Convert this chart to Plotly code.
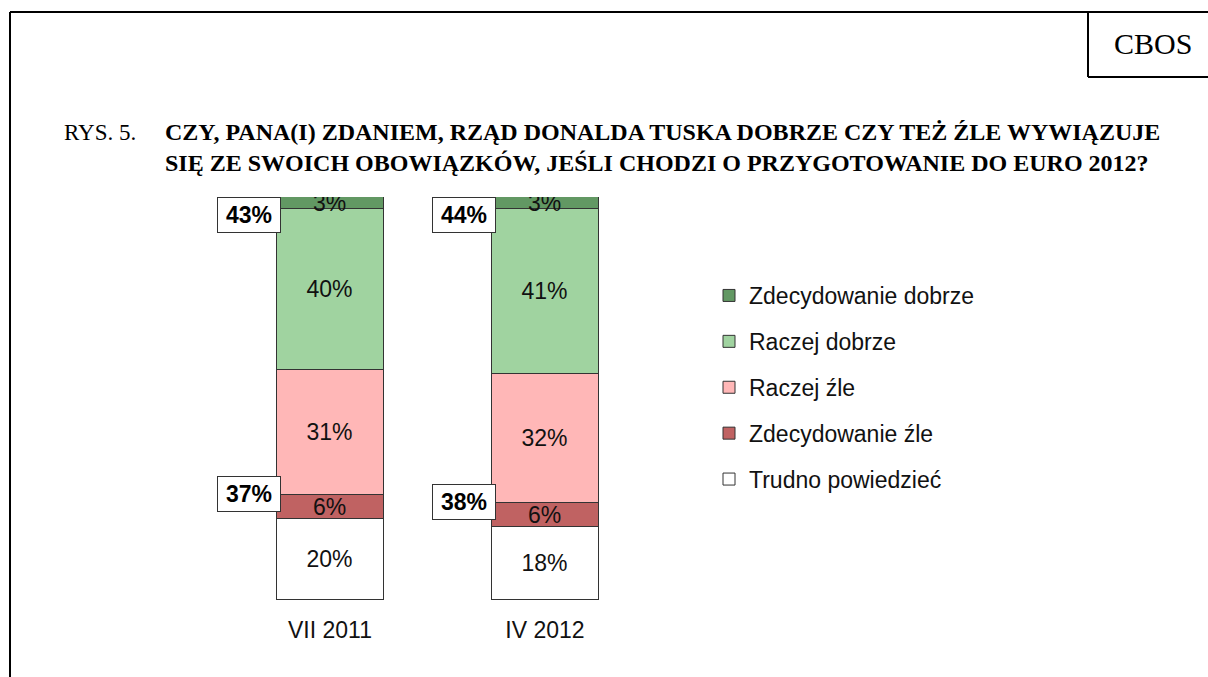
import plotly.graph_objects as go

W, H = 1208, 677

categories = ["VII 2011", "IV 2012"]
series_names = ["Trudno powiedzieć", "Zdecydowanie źle", "Raczej źle",
                "Raczej dobrze", "Zdecydowanie dobrze"]
trudno = [20, 18]
zdec_zle = [6, 6]
raczej_zle = [31, 32]
raczej_dobrze = [40, 41]
zdec_dobrze = [3, 3]
colors = ["#FFFFFF", "#C06262", "#FFB7B7", "#A0D3A0", "#629863"]

series_values = [trudno, zdec_zle, raczej_zle, raczej_dobrze, zdec_dobrze]

SANS = "Liberation Sans, Arial"
SERIF = "Liberation Serif, Times New Roman"

def px_x(p):
    return p / W

def px_y(p):
    return 1 - p / H

fig = go.Figure()
n = len(series_names)
for k, (name, vals, col) in enumerate(zip(series_names, series_values, colors)):
    fig.add_trace(go.Bar(
        x=categories, y=vals, name=name, legendgroup=name, legendrank=n - k,
        marker=dict(color=col, line=dict(color="#333333", width=1)),
        width=0.5,
        text=[f"{v}%" for v in vals], textposition="inside",
        insidetextanchor="middle", textangle=0, constraintext="none",
        textfont=dict(family=SANS, size=23, color="#111111"),
        hoverinfo="skip",
    ))

# totals
pos_tot = [a + b for a, b in zip(zdec_dobrze, raczej_dobrze)]
neg_tot = [a + b for a, b in zip(raczej_zle, zdec_zle)]
pos_anchor = [100 - d for d in zdec_dobrze]
neg_anchor = [t + z for t, z in zip(trudno, zdec_zle)]

annotations = []
for i, cat in enumerate(categories):
    for val, yv, ys in ((pos_tot[i], pos_anchor[i], -6), (neg_tot[i], neg_anchor[i], 1)):
        annotations.append(dict(
            x=cat, y=yv, xref="x", yref="y", xanchor="right", yanchor="middle",
            xshift=-49, yshift=ys, showarrow=False, text=f"<b>{val}%</b>",
            font=dict(family=SANS, size=23, color="#000"),
            bgcolor="#FFFFFF", bordercolor="#333333", borderwidth=1,
            width=60, height=32, align="center",
        ))

annotations += [
    dict(x=px_x(62), y=px_y(133), xref="paper", yref="paper", xanchor="left",
         yanchor="middle", showarrow=False, text="RYS. 5.",
         font=dict(family=SERIF, size=23, color="#000")),
    dict(x=px_x(163), y=px_y(148), xref="paper", yref="paper", xanchor="left",
         yanchor="middle", showarrow=False, align="left",
         text="<b>CZY, PANA(I) ZDANIEM, RZĄD DONALDA TUSKA DOBRZE CZY TEŻ ŹLE WYWIĄZUJE</b><br>"
              "<b>SIĘ ZE SWOICH OBOWIĄZKÓW, JEŚLI CHODZI O PRZYGOTOWANIE DO EURO 2012?</b>",
         font=dict(family=SERIF, size=24, color="#000")),
    dict(x=px_x(1153), y=px_y(44), xref="paper", yref="paper", xanchor="center",
         yanchor="middle", showarrow=False, text="CBOS",
         font=dict(family=SERIF, size=30, color="#000")),
]

shapes = [
    dict(type="line", xref="paper", yref="paper", x0=px_x(10), y0=px_y(12),
         x1=px_x(1210), y1=px_y(12), line=dict(color="#000", width=2)),
    dict(type="line", xref="paper", yref="paper", x0=px_x(10), y0=px_y(12),
         x1=px_x(10), y1=px_y(680), line=dict(color="#000", width=2)),
    dict(type="line", xref="paper", yref="paper", x0=px_x(1088), y0=px_y(12),
         x1=px_x(1088), y1=px_y(77), line=dict(color="#000", width=2)),
    dict(type="line", xref="paper", yref="paper", x0=px_x(1088), y0=px_y(77),
         x1=px_x(1210), y1=px_y(77), line=dict(color="#000", width=2)),
]

fig.update_layout(
    width=W, height=H, autosize=False,
    margin=dict(l=0, r=0, t=0, b=0),
    paper_bgcolor="#FFFFFF", plot_bgcolor="#FFFFFF",
    barmode="stack", bargap=0,
    showlegend=True,
    legend=dict(x=px_x(709), y=px_y(274), xanchor="left", yanchor="top",
                traceorder="grouped", tracegroupgap=13,
                font=dict(family=SANS, size=23, color="#111"),
                bgcolor="rgba(0,0,0,0)", itemclick=False),
    xaxis=dict(domain=[px_x(222.5), px_x(652.5)], range=[-0.5, 1.5],
               showgrid=False, zeroline=False, showline=False, ticks="",
               tickfont=dict(family=SANS, size=23, color="#111"),
               ticklabelstandoff=14, fixedrange=True),
    yaxis=dict(domain=[px_y(600), px_y(197)], range=[0, 100], visible=False,
               fixedrange=True),
    annotations=annotations, shapes=shapes,
    uniformtext=dict(mode="show", minsize=18),
)

fig.write_html("out.html", config={"displayModeBar": False},
               post_script="document.body.style.margin='0';document.body.style.overflow='hidden';")
